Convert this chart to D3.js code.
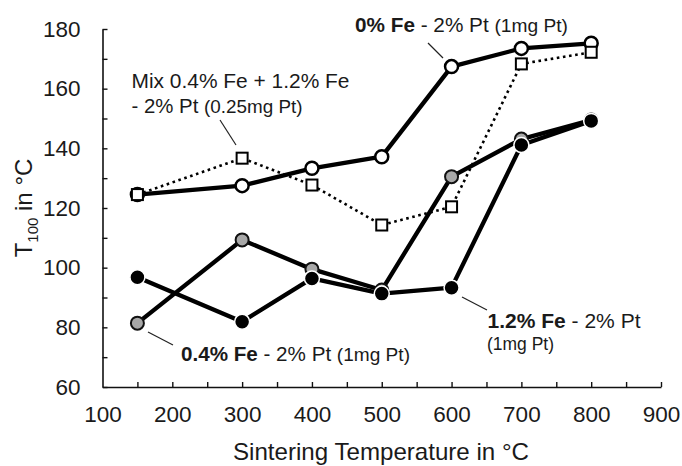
<!DOCTYPE html>
<html><head><meta charset="utf-8">
<script src="https://cdn.jsdelivr.net/npm/d3@7"></script>
<style>
body{margin:0;background:#fff;}
text{font-family:"Liberation Sans",Arial,sans-serif;fill:#1a1a1a;}
</style></head>
<body><svg id="c" width="682" height="466"></svg>
<script>
const temps = [150, 300, 400, 500, 600, 700, 800];
const fe0  = [124.5, 127.5, 133.3, 137.2, 167.4, 173.5, 175.2];
const mix  = [124.5, 136.7, 127.7, 114.3, 120.4, 168.3, 172.2];
const fe04 = [81.4, 109.3, 99.5, 92.5, 130.5, 143.1, 149.5];
const fe12 = [96.8, 81.9, 96.4, 91.3, 93.3, 141.1, 149.2];
const xTicks = [100, 200, 300, 400, 500, 600, 700, 800, 900];
const yTicks = [60, 80, 100, 120, 140, 160, 180];
const xTitle = "Sintering Temperature in °C";

const svg = d3.select("#c");
const x = d3.scaleLinear().domain([100, 900]).range([102.5, 661]);
const y = d3.scaleLinear().domain([60, 180]).range([387, 29]);

// axes
const xAx = svg.append("g").attr("transform", "translate(0,387)")
  .call(d3.axisBottom(x).tickValues(d3.range(100, 901, 50)).tickSizeInner(-5).tickSizeOuter(0)
    .tickFormat(d => xTicks.includes(d) ? d : ""));
const yAx = svg.append("g").attr("transform", "translate(102.5,0)")
  .call(d3.axisLeft(y).tickValues(d3.range(60, 181, 10)).tickSizeInner(-5).tickSizeOuter(0)
    .tickFormat(d => yTicks.includes(d) ? d : ""));
[xAx, yAx].forEach(g => {
  g.select(".domain").attr("stroke", "#111").attr("stroke-width", 1.6);
  g.selectAll(".tick line").attr("stroke", "#111").attr("stroke-width", 1.4);
  g.selectAll("text").style("font-size", "22.5px").attr("fill", "#1a1a1a");
});
xAx.selectAll(".tick text").attr("y", 19);
yAx.selectAll(".tick text").attr("x", -22);
xAx.selectAll(".tick").filter(d => d === 100).select("line").attr("opacity", 0);

// titles
svg.append("text").attr("x", 381).attr("y", 460).attr("text-anchor", "middle")
  .attr("textLength", 296).attr("lengthAdjust", "spacingAndGlyphs")
  .style("font-size", "24px").text(xTitle);
const yt = svg.append("text").attr("transform", "translate(32,208) rotate(-90)")
  .attr("text-anchor", "middle").style("font-size", "24px");
yt.append("tspan").text("T");
yt.append("tspan").attr("dy", 6).style("font-size", "15px").text("100");
yt.append("tspan").attr("dy", -6).text(" in °C");

const pts = arr => temps.map((t, i) => [x(t), y(arr[i])]);
const line = d3.line();

// 0.4% Fe
svg.append("path").attr("d", line(pts(fe04))).attr("fill", "none").attr("stroke", "#000").attr("stroke-width", 4.3).attr("stroke-linejoin", "round");
svg.selectAll(".m04").data(pts(fe04)).enter().append("circle")
  .attr("cx", d => d[0]).attr("cy", d => d[1]).attr("r", 6.5)
  .attr("fill", "#a8a8a8").attr("stroke", "#111").attr("stroke-width", 2);
// 1.2% Fe
svg.append("path").attr("d", line(pts(fe12))).attr("fill", "none").attr("stroke", "#000").attr("stroke-width", 4.3).attr("stroke-linejoin", "round");
svg.selectAll(".m12").data(pts(fe12)).enter().append("circle")
  .attr("cx", d => d[0]).attr("cy", d => d[1]).attr("r", 7.5)
  .attr("fill", "#000").attr("stroke", "#fff").attr("stroke-width", 1.5);
// 0% Fe
svg.append("path").attr("d", line(pts(fe0))).attr("fill", "none").attr("stroke", "#000").attr("stroke-width", 4.3).attr("stroke-linejoin", "round");
svg.selectAll(".m0").data(pts(fe0)).enter().append("circle")
  .attr("cx", d => d[0]).attr("cy", d => d[1]).attr("r", 6.5)
  .attr("fill", "#fff").attr("stroke", "#000").attr("stroke-width", 2.5);
// Mix
svg.append("path").attr("d", line(pts(mix))).attr("fill", "none").attr("stroke", "#000").attr("stroke-width", 2.6).attr("stroke-dasharray", "2.6,3.6");
svg.selectAll(".mm").data(pts(mix)).enter().append("rect")
  .attr("x", d => d[0] - 5.5).attr("y", d => d[1] - 5.5).attr("width", 11).attr("height", 11)
  .attr("fill", "#fff").attr("stroke", "#000").attr("stroke-width", 2);

// annotations
function leader(x1, y1, x2, y2) {
  svg.append("line").attr("x1", x1).attr("y1", y1).attr("x2", x2).attr("y2", y2)
    .attr("stroke", "#222").attr("stroke-width", 1.2);
}
function label(xp, yp, len, parts) {
  const t = svg.append("text").attr("x", xp).attr("y", yp)
    .attr("textLength", len).attr("lengthAdjust", "spacingAndGlyphs");
  parts.forEach(p => t.append("tspan").style("font-size", p[2] + "px")
    .style("font-weight", p[1] ? "bold" : "normal").text(p[0]));
}
leader(428, 43, 443, 58);
label(355, 32, 213, [["0% Fe", true, 20], [" - 2% Pt ", false, 20], ["(1mg Pt)", false, 18.5]]);
leader(220, 120, 236, 145);
label(131.5, 88, 218, [["Mix 0.4% Fe + 1.2% Fe", false, 20]]);
label(131.5, 113, 171, [["- 2% Pt ", false, 20], ["(0.25mg Pt)", false, 18.5]]);
leader(148, 332, 173, 345);
label(181, 361, 229, [["0.4% Fe", true, 20], [" - 2% Pt ", false, 20], ["(1mg Pt)", false, 18.5]]);
leader(462, 297, 487, 310);
label(487.5, 328, 153, [["1.2% Fe", true, 20], [" - 2% Pt", false, 20]]);
label(487, 350, 67, [["(1mg Pt)", false, 18.5]]);
</script></body></html>
